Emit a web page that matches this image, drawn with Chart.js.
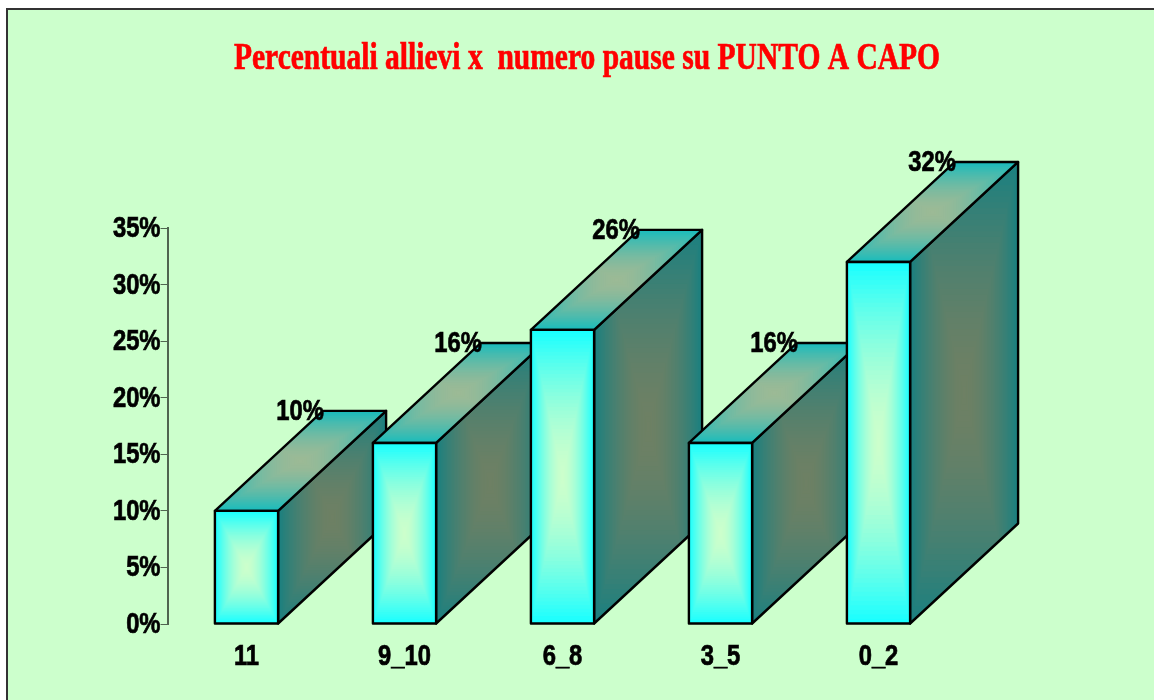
<!DOCTYPE html>
<html lang="it">
<head>
    <meta charset="UTF-8">
    <title>Percentuali allievi x numero pause su PUNTO A CAPO</title>
    <script src="https://cdn.jsdelivr.net/npm/chart.js"></script>
    <style>
        html, body { margin: 0; padding: 0; background: #fff; overflow: hidden; width: 1154px; height: 700px; }
        .frame {
            position: absolute; left: 6px; top: 8px; width: 1160px; height: 710px;
            background: #ccffcc; border: 2px solid #333;
        }
        canvas { position: absolute; left: 0; top: 0; }
    </style>
</head>
<body>
    <div class="frame"></div>
    <canvas id="chart" width="1154" height="700"></canvas>

    <script>
        const titleText = 'Percentuali allievi x  numero pause su PUNTO A CAPO';
        const categories = ['11', '9_10', '6_8', '3_5', '0_2'];
        const values = [10, 16, 26, 16, 32];
        const yMax = 35;
        const yStep = 5;

        const labelFont = 'bold 29px "Liberation Sans", sans-serif';
        const squeeze = 0.82;
        const depthX = 108, depthY = 100;

        function mix(a, b, t) {
            return 'rgb(' + a.map((c, i) => Math.round(c + (b[i] - c) * t)).join(',') + ')';
        }

        // concentric fill over the face's bounding box, clipped to the face
        function shadeFace(ctx, pts, edge, center) {
            const xs = pts.map(p => p[0]), ys = pts.map(p => p[1]);
            const x0 = Math.min(...xs), y0 = Math.min(...ys);
            const w = Math.max(...xs) - x0, h = Math.max(...ys) - y0;
            const steps = 40;
            ctx.save();
            ctx.beginPath();
            pts.forEach((p, i) => i ? ctx.lineTo(p[0], p[1]) : ctx.moveTo(p[0], p[1]));
            ctx.closePath();
            ctx.clip();
            for (let i = 0; i < steps; i++) {
                const t = i / steps;
                // ramp eases out, the pale middle is fairly wide in the original
                ctx.fillStyle = mix(edge, center, 1 - Math.pow(1 - t, 1.7));
                ctx.fillRect(x0 + w * t / 2, y0 + h * t / 2, w * (1 - t), h * (1 - t));
            }
            ctx.restore();
            ctx.beginPath();
            pts.forEach((p, i) => i ? ctx.lineTo(p[0], p[1]) : ctx.moveTo(p[0], p[1]));
            ctx.closePath();
            ctx.stroke();
        }

        // Arial Narrow is not installed, so the text gets squeezed by hand
        function squeezedText(ctx, text, x, y, sx) {
            ctx.save();
            ctx.translate(x, y);
            ctx.scale(sx, 1);
            ctx.lineWidth = 0.7;
            ctx.strokeStyle = ctx.fillStyle;
            ctx.strokeText(text, 0, 0);
            ctx.fillText(text, 0, 0);
            ctx.restore();
        }

        const box3dPlugin = {
            id: 'box3d',
            afterDatasetsDraw(chart) {
                const ctx = chart.ctx;
                ctx.save();
                ctx.strokeStyle = '#000';
                ctx.lineWidth = 2.4;
                ctx.lineJoin = 'round';
                chart.getDatasetMeta(0).data.forEach(bar => {
                    const left = bar.x - bar.width / 2, right = bar.x + bar.width / 2;
                    const top = bar.y, base = bar.base;

                    shadeFace(ctx, [[right, top], [right + depthX, top - depthY], [right + depthX, base - depthY], [right, base]],
                        [26, 128, 128], [110, 128, 100]);
                    shadeFace(ctx, [[left, top], [left + depthX, top - depthY], [right + depthX, top - depthY], [right, top]],
                        [26, 188, 188], [156, 186, 150]);
                    shadeFace(ctx, [[left, top], [right, top], [right, base], [left, base]],
                        [26, 255, 255], [204, 255, 204]);
                });
                ctx.restore();
            },
            afterDraw(chart) {
                const ctx = chart.ctx;
                const yScale = chart.scales.y, xScale = chart.scales.x;
                ctx.save();
                ctx.fillStyle = '#000';
                ctx.font = labelFont;
                ctx.textBaseline = 'middle';
                ctx.textAlign = 'right';
                chart.getDatasetMeta(0).data.forEach((bar, i) => {
                    squeezedText(ctx, values[i] + '%', bar.x - bar.width / 2 + depthX + 1, bar.y - depthY + 1, squeeze);
                });
                yScale.ticks.forEach((tick, i) => {
                    squeezedText(ctx, tick.label, yScale.left + yScale.width - 7, yScale.getPixelForTick(i) + 1, squeeze);
                });
                ctx.textAlign = 'center';
                categories.forEach((c, i) => {
                    squeezedText(ctx, c, xScale.getPixelForTick(i), chart.chartArea.bottom + 33, squeeze);
                });
                ctx.fillStyle = '#ff0000';
                ctx.font = 'bold 38px "Liberation Serif", serif';
                ctx.textBaseline = 'alphabetic';
                squeezedText(ctx, titleText, 587, 69, 0.777);
                ctx.restore();
            }
        };

        new Chart(document.getElementById('chart'), {
            type: 'bar',
            data: {
                labels: categories,
                datasets: [{
                    data: values,
                    backgroundColor: '#19ffff',
                    borderWidth: 0,
                    barPercentage: 1,
                    categoryPercentage: 0.4
                }]
            },
            options: {
                responsive: false,
                animation: false,
                layout: { padding: { left: 0, right: 196.5, top: 228, bottom: 0 } },
                plugins: { legend: { display: false }, tooltip: { enabled: false }, title: { display: false } },
                scales: {
                    y: {
                        min: 0, max: yMax,
                        afterFit(scale) { scale.width = 167.5; },
                        border: { display: true, color: '#4f644f', width: 2 },
                        grid: { drawOnChartArea: false, drawTicks: true, tickLength: 7, color: '#4f644f' },
                        ticks: {
                            display: false,
                            stepSize: yStep,
                            callback: v => v + '%'
                        }
                    },
                    x: {
                        afterFit(scale) { scale.height = 76; },
                        border: { display: false },
                        grid: { display: false },
                        ticks: { display: false }
                    }
                }
            },
            plugins: [box3dPlugin]
        });
    </script>
</body>
</html>
